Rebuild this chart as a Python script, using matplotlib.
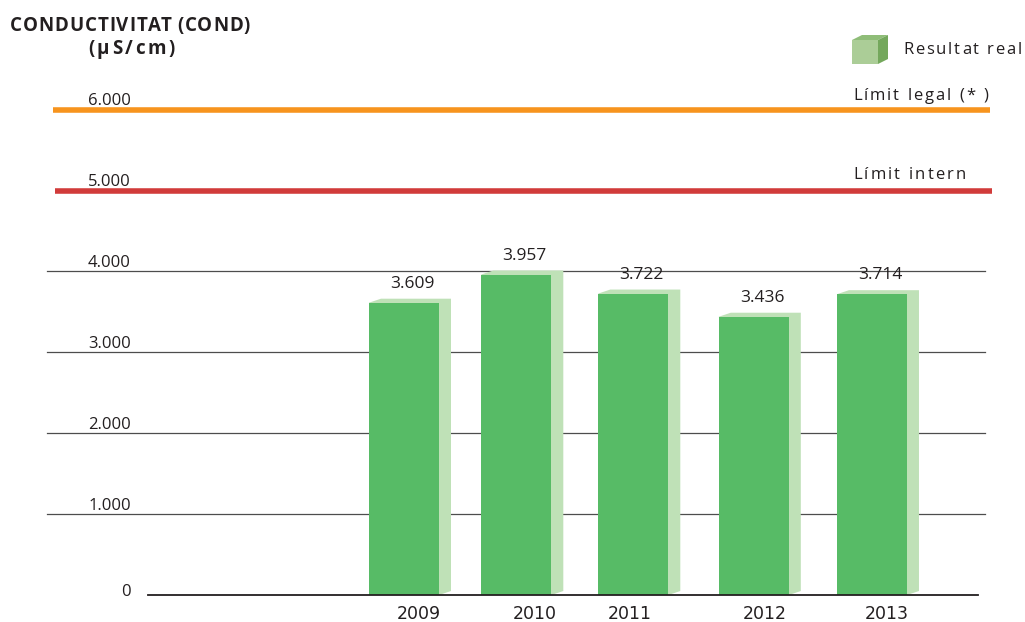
import matplotlib.pyplot as plt
from matplotlib.patches import Polygon

years = ['2009', '2010', '2011', '2012', '2013']
values = [3609, 3957, 3722, 3436, 3714]
value_labels = ['3.609', '3.957', '3.722', '3.436', '3.714']
bar_pos = [0.0, 0.96, 1.96, 2.99, 4.0]
year_pos = [0.13, 1.115, 1.932, 3.081, 4.13]
ticks = [0, 1000, 2000, 3000, 4000, 5000, 6000]
tick_labels = ['0', '1.000', '2.000', '3.000', '4.000', '5.000', '6.000']
limit_legal = 6000
limit_intern = 5000

plt.rcParams['font.family'] = ['Open Sans', 'DejaVu Sans']

W, H = 1025, 622
fig = plt.figure(figsize=(10.25, 6.22), dpi=100)
ax = fig.add_axes([0, 0, 1, 1])
ax.set_xlim(-3.453, 5.308)
ax.set_ylim(-333, 7346)
ax.axis('off')
renderer = fig.canvas.get_renderer()

px_x = 8.761 / W
px_y = 7679 / H


def xp(p):
    return -3.453 + p * px_x


def text_width(s, **kw):
    t = fig.text(0, 0, s, **kw)
    w = t.get_window_extent(renderer).width
    t.remove()
    return w


def spaced_text(x, y, s, target, **kw):
    # letter-spaced text, left edge at pixel x, spread to target pixel width
    natural = text_width(s, **kw)
    gap = (target - natural) / (len(s) - 1)
    ref = text_width('x', **kw)
    for i, ch in enumerate(s):
        if ch == ' ':
            continue
        off = text_width(s[:i] + 'x', **kw) - ref if i else 0
        fig.text((x + off + i * gap) / W, 1 - y / H, ch, ha='left', va='center', **kw)


w = 70 * px_x
depth = 12 * px_x
rise = 4 * px_y

# grid lines
for t in ticks[1:5]:
    ax.plot([xp(47), xp(985)], [t, t], color='#4d4d4d', lw=0.9, zorder=1)
ax.plot([xp(148), xp(978)], [0, 0], color='#231f20', lw=1.3, zorder=5)

# limits
ax.plot([xp(53), xp(990)], [limit_legal - 12, limit_legal - 12],
        color='#f7941d', lw=4, solid_capstyle='butt', zorder=2)
ax.plot([xp(55), xp(992)], [limit_intern - 12, limit_intern - 12],
        color='#d13b3a', lw=4, solid_capstyle='butt', zorder=2)

for x, v, lab in zip(bar_pos, values, value_labels):
    x0 = x - w / 2
    x1 = x + w / 2
    shadow = Polygon([(x0, v), (x0 + depth, v + rise), (x1 + depth, v + rise),
                      (x1 + depth, rise), (x1, 0)], closed=True,
                     facecolor='#bfe1b7', edgecolor='none', zorder=3)
    ax.add_patch(shadow)
    ax.bar(x, v, width=w, color='#57bb66', zorder=4)
    ax.text(x + 0.07, v + 11 * px_y, lab, ha='center', va='bottom',
            fontsize=12.5, color='#231f20', zorder=6)

for x, y in zip(year_pos, years):
    ax.text(x, -19 * px_y, y, ha='center', va='center', fontsize=12.5,
            color='#231f20', fontfamily=['DejaVu Sans'])

for t, lab in zip(ticks, tick_labels):
    off = 8 * px_y if t > 0 else 3 * px_y
    ax.text(xp(131), t + off, lab, ha='right', va='center', fontsize=12,
            color='#231f20')

spaced_text(853, 96, 'Límit legal (* )', 135, fontsize=12, color='#231f20')
spaced_text(853, 175, 'Límit intern', 113, fontsize=12, color='#231f20')

# legend cube
cube = [
    ([(852, 40), (878, 40), (878, 64), (852, 64)], '#abcd97'),
    ([(852, 40), (862, 35), (888, 35), (878, 40)], '#8fbd78'),
    ([(878, 40), (888, 35), (888, 59), (878, 64)], '#74a85c'),
]
for pts, col in cube:
    fig.patches.append(Polygon([(px / W, 1 - py / H) for px, py in pts], closed=True,
                               transform=fig.transFigure, facecolor=col,
                               edgecolor='none'))
spaced_text(903, 50, 'Resultat real', 119, fontsize=12, color='#231f20')

spaced_text(10, 26, 'CONDUCTIVITAT (COND)', 240, fontsize=13.5, fontweight='bold',
            color='#231f20')
spaced_text(88, 49, '(μS/cm)', 87, fontsize=13.5, fontweight='bold', color='#231f20')

fig.savefig('out.png', dpi=100)
